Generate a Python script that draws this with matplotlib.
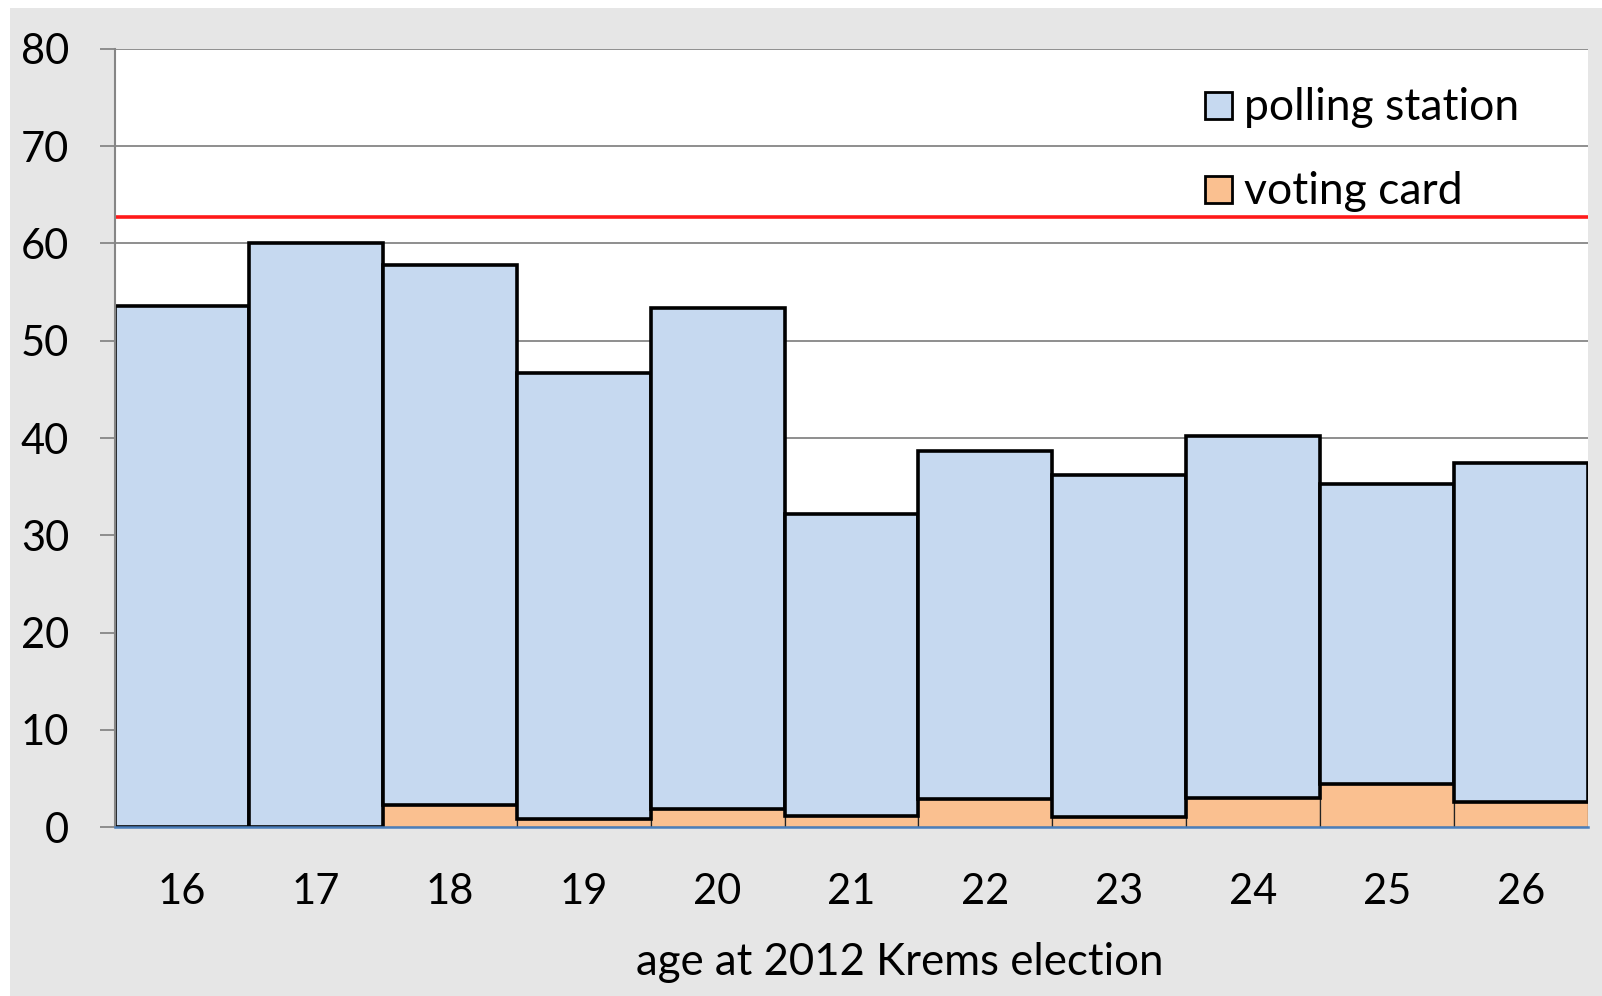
import matplotlib
matplotlib.use("Agg")
import matplotlib.pyplot as plt
from matplotlib.patches import Rectangle

plt.rcParams['font.family'] = ['Lato', 'DejaVu Sans']

ages = ["16", "17", "18", "19", "20", "21", "22", "23", "24", "25", "26"]
voting_card = [0.0, 0.0, 2.3, 0.8, 1.9, 1.1, 2.9, 1.0, 3.0, 4.4, 2.6]
polling_station = [53.6, 60.0, 55.5, 45.9, 51.5, 31.1, 35.8, 35.2, 37.2, 30.9, 34.8]
overall_turnout = 62.7
y_ticks = [0, 10, 20, 30, 40, 50, 60, 70, 80]

W, H = 1602, 996
fig = plt.figure(figsize=(W / 100, H / 100), dpi=100, facecolor="white")

# grey chart area behind the plot
fig.patches.append(Rectangle((10 / W, 0), 1 - 10 / W, (H - 8) / H,
                             transform=fig.transFigure, facecolor="#e6e6e6",
                             edgecolor="none", zorder=-1))

left, right, top, bottom = 115, 1588, 49, 827
ax = fig.add_axes([left / W, (H - bottom) / H, (right - left) / W, (bottom - top) / H])
ax.set_zorder(1)
ax.set_facecolor("white")

x = list(range(len(ages)))
ax.bar(x, voting_card, width=1.0, color="#fac090", edgecolor="#222222",
       linewidth=0.9, zorder=2)
ax.bar(x, polling_station, bottom=voting_card, width=1.0, color="#c6d9f0",
       edgecolor="black", linewidth=2.6, zorder=3)

ax.axhline(overall_turnout, color="#ff1a1a", linewidth=2.6, zorder=4)

ax.set_xlim(-0.5, len(ages) - 0.5)
ax.set_ylim(0, 80)
ax.set_yticks(y_ticks)
ax.set_yticklabels([str(t) for t in y_ticks], fontsize=30)
ax.set_xticks(x)
ax.set_xticklabels(ages, fontsize=30)
ax.tick_params(axis="y", length=11, width=1.3, color="#868686", pad=22)
ax.tick_params(axis="x", length=0, pad=33)
ax.yaxis.grid(True, color="#868686", linewidth=1.3, zorder=1)
ax.set_axisbelow(True)

for s in ("top", "right"):
    ax.spines[s].set_visible(False)
ax.spines["left"].set_color("#868686")
ax.spines["left"].set_linewidth(1.5)
ax.spines["left"].set_zorder(5)
ax.spines["bottom"].set_color("#4a7ebb")
ax.spines["bottom"].set_linewidth(1.8)
ax.spines["bottom"].set_zorder(5)

fig.text(900 / W, 1 - 962 / H, "age at 2012 Krems election", fontsize=31.5,
         ha="center", va="center")

# legend
legend_items = [("polling station", "#c6d9f0", 108), ("voting card", "#fac090", 192)]
for label, color, yc in legend_items:
    sq = 27
    fig.patches.append(Rectangle((1205 / W, 1 - (yc - 2 + sq / 2) / H), sq / W, sq / H,
                                 transform=fig.transFigure, facecolor=color,
                                 edgecolor="black", linewidth=2.0, zorder=6))
    fig.text(1244 / W, 1 - yc / H, label, fontsize=32,
             ha="left", va="center", zorder=6)

fig.savefig("out.png", dpi=100, facecolor=fig.get_facecolor())
